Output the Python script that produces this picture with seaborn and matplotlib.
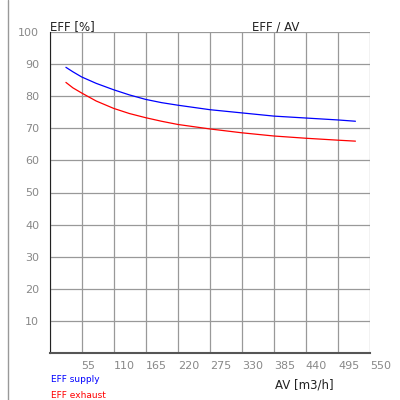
import matplotlib
matplotlib.use("Agg")
import matplotlib.pyplot as plt
import seaborn as sns

av = [28, 40, 55, 80, 110, 137, 165, 192, 220, 275, 330, 385, 440, 495, 525]
eff_supply = [89.0, 87.6, 86.0, 84.0, 82.0, 80.4, 79.0, 78.0, 77.2, 75.8, 74.8, 73.8, 73.2, 72.6, 72.2]
eff_exhaust = [84.3, 82.6, 81.0, 78.5, 76.2, 74.6, 73.3, 72.2, 71.2, 69.8, 68.6, 67.6, 66.9, 66.3, 66.0]
x_ticks = [55, 110, 165, 220, 275, 330, 385, 440, 495, 550]
y_ticks = [10, 20, 30, 40, 50, 60, 70, 80, 90, 100]

sns.set_style("white")
plt.rcParams['font.family'] = ['DejaVu Sans']
fig = plt.figure(figsize=(4, 4), dpi=100)
ax = fig.add_axes([0.124, 0.1175, 0.801, 0.8025])

sns.lineplot(x=av, y=eff_supply, ax=ax, color='blue', linewidth=0.9)
sns.lineplot(x=av, y=eff_exhaust, ax=ax, color='red', linewidth=0.9)

ax.set_xlim(0, 550)
ax.set_ylim(0, 100)
ax.set_xticks([0] + x_ticks)
ax.set_xticklabels([''] + [str(t) for t in x_ticks], ha='left')
ax.set_yticks([0] + y_ticks)
ax.set_yticklabels([''] + [str(t) for t in y_ticks])
ax.tick_params(axis='both', labelsize=8, labelcolor='#888888', length=4, color='#555555')
ax.tick_params(axis='x', pad=1.5)
ax.grid(True, color='#999999', linewidth=0.9)
for s in ['top', 'right']:
    ax.spines[s].set_visible(False)
ax.spines['left'].set_color('#222222')
ax.spines['bottom'].set_color('#555555')
ax.spines['bottom'].set_linewidth(1.5)

fig.text(0.125, 0.925, 'EFF [%]', fontsize=8.5, color='#222222')
fig.text(0.63, 0.925, 'EFF / AV', fontsize=8.5, color='#222222')
fig.text(0.688, 0.03, 'AV [m3/h]', fontsize=8.5, color='#222222')
fig.text(0.127, 0.045, 'EFF supply', fontsize=6.5, color='blue')
fig.text(0.127, 0.005, 'EFF exhaust', fontsize=6.5, color='red')
fig.add_artist(plt.Line2D([0.021, 0.021], [0, 1], color='#999999', linewidth=1))

fig.savefig('out.png', dpi=100)
